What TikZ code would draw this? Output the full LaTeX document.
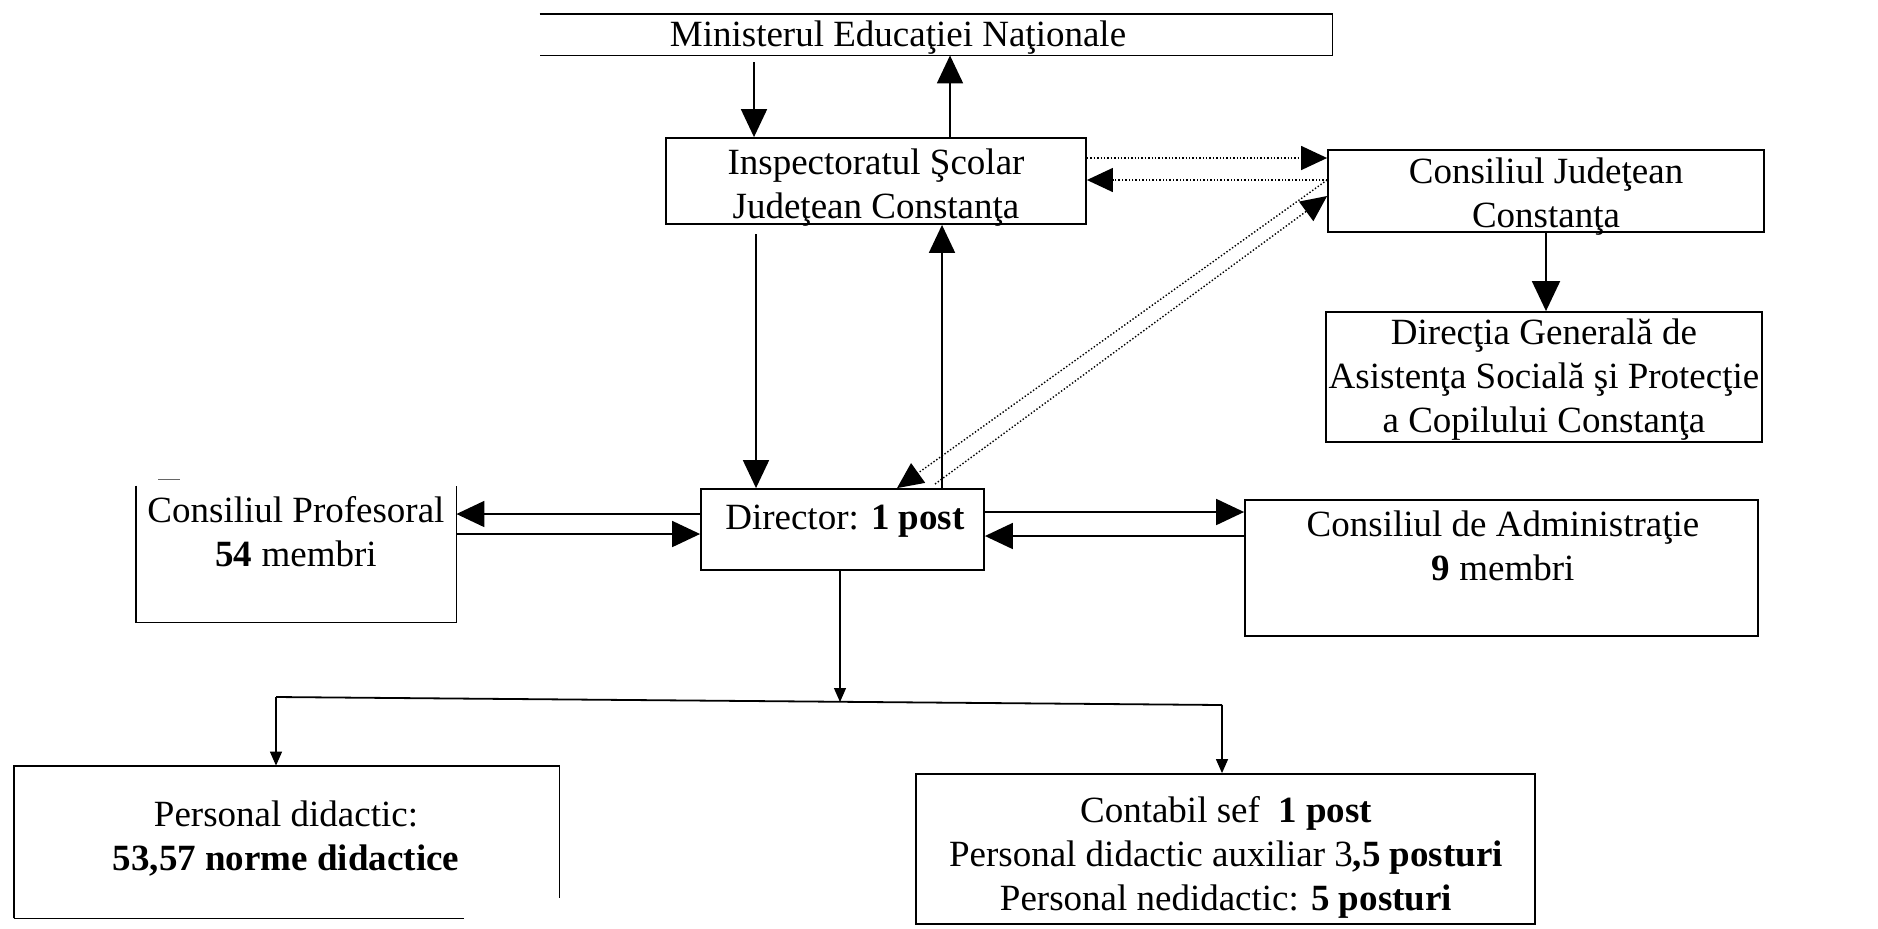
\documentclass[tikz,border=0pt]{standalone}
\usepackage{fontspec}
\setmainfont{Liberation Serif}
\usetikzlibrary{arrows.meta}
\begin{document}
\begin{tikzpicture}[x=0.5pt,y=-0.5pt,
  bx/.style={rectangle,draw,line width=0.9pt,inner sep=0pt},
  nobx/.style={rectangle,inner sep=0pt},
  txt/.style={align=center,inner sep=0pt,font=\fontsize{18.5pt}{22pt}\selectfont},
  big/.style={line width=0.9pt,-{Triangle[length=14pt,width=13pt]}},
  sml/.style={line width=0.6pt,-{Triangle[length=7pt,width=6pt]}},
  dots/.style={line width=0.7pt,densely dotted,-{Triangle[length=13pt,width=12pt]}},
  side/.style={line width=0.9pt}]
\fill[white] (0,0) rectangle (1878,928);
\useasboundingbox (0,0) rectangle (1878,928);

% boxes
\node[nobx,minimum width=396pt,minimum height=20.5pt] (min) at (936,34.5) {};
\node[txt] (mint) at (898,38) {Ministerul Educaţiei Naţionale};
\draw[side] (min.north west) -- (min.north east) -- (min.south east) -- (min.south west);

\node[bx,minimum width=210pt,minimum height=43pt] (isj) at (876,181) {};
\node[txt] (isjt) at (876,188) {Inspectoratul Şcolar\\Judeţean Constanţa};
\node[bx,minimum width=218pt,minimum height=41pt] (cj) at (1546,191) {};
\node[txt] (cjt) at (1546,197) {Consiliul Judeţean\\Constanţa};
\node[bx,minimum width=218pt,minimum height=65pt] (dg) at (1544,377) {};
\node[txt] (dgt) at (1544,380) {Direcţia Generală de\\Asistenţa Socială şi Protecţie\\a Copilului Constanţa};

\node[bx,minimum width=141.5pt,minimum height=40.5pt] (dir) at (842.5,529.5) {};
\node[txt] (dirt) at (845,521) {Director: \textbf{1 post}};

\node[nobx,minimum width=160pt,minimum height=68pt] (cp) at (296,554) {};
\draw[side] (cp.north west) -- (cp.south west) -- (cp.south east) -- (cp.north east);
\draw[line width=0.5pt,black!60] (158,479) -- (180,479);
\node[txt] (cpt) at (296,532) {Consiliul Profesoral\\\textbf{54} membri};

\node[bx,minimum width=256.5pt,minimum height=68pt] (ca) at (1501.5,568) {};
\node[txt] (cat) at (1503,546) {Consiliul de Administraţie\\\textbf{9} membri};

\node[nobx,minimum width=272.5pt,minimum height=76pt] (pd) at (286.5,842) {};
\draw[side] (pd.south west) -- (pd.north west) -- (pd.north east) -- ++(0,132);
\draw[side] (pd.south west) -- ++(450,0);
\node[txt] (pdt) at (286,838.5) {Personal didactic:\\\textbf{53,57 norme didactice}};

\node[bx,minimum width=309.5pt,minimum height=75pt] (cs) at (1225.5,849) {};
\node[txt] (cst) at (1226,857) {Contabil sef\ \ \textbf{1 post}\\Personal didactic auxiliar 3\textbf{,5 posturi}\\Personal nedidactic: \textbf{5 posturi}};

% helper coordinates
\coordinate (a0) at (754,62);
\coordinate (xb) at (950,0);
\coordinate (f0) at (756,234);
\coordinate (xg) at (942,0);
\coordinate (xh) at (897,0);
\coordinate (i0) at (935,484);
\coordinate (y1) at (0,158);
\coordinate (y2) at (0,180);
\coordinate (y7) at (0,196);
\coordinate (y3) at (0,514);
\coordinate (y4) at (0,534);
\coordinate (y5) at (0,512);
\coordinate (y6) at (0,536);
\coordinate (xn) at (840,0);
\coordinate (jl) at (276,697);
\coordinate (jr) at (1222,705);
\coordinate (jm) at (840,702);

% connectors
\draw[big] (a0) -- (a0 |- isj.north);
\draw[big] (isj.north -| xb) -- (min.south -| xb);
\draw[dots] (isj.east |- y1) -- (cj.west |- y1);
\draw[dots] (cj.west |- y2) -- (isj.east |- y2);
\draw[big,-{Triangle[length=15pt,width=14pt]}] (cj.south) -- (cj.south |- dg.north);
\draw[big] (f0) -- (f0 |- dir.north);
\draw[big] (dir.north -| xg) -- (isj.south -| xg);
\draw[dots] (cj.west |- y2) -- (dir.north -| xh);
\draw[dots] (i0) -- (cj.west |- y7);
\draw[big] (dir.west |- y3) -- (cp.east |- y3);
\draw[big] (cp.east |- y4) -- (dir.west |- y4);
\draw[big] (dir.east |- y5) -- (ca.west |- y5);
\draw[big] (ca.west |- y6) -- (dir.east |- y6);
\draw[sml] (dir.south -| xn) -- (jm);
\draw[line width=0.9pt] (jl) -- (jr);
\draw[sml] (jl) -- (jl |- pd.north);
\draw[sml] (jr) -- (jr |- cs.north);
\end{tikzpicture}
\end{document}
